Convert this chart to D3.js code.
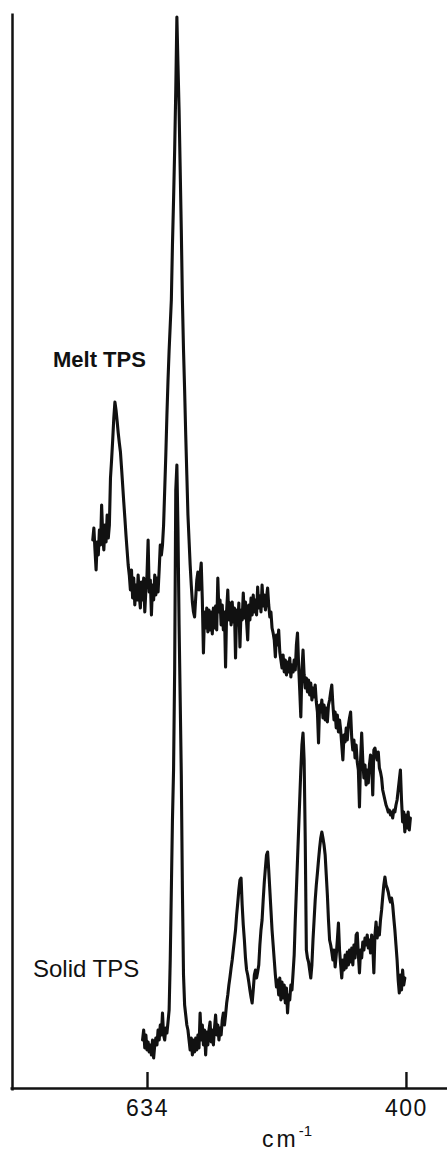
<!DOCTYPE html>
<html><head><meta charset="utf-8">
<script src="https://cdn.jsdelivr.net/npm/d3@7"></script>
<style>html,body{margin:0;padding:0;background:#fff;} svg{display:block}</style>
</head><body>
<svg id="chart" width="447" height="1155"></svg>
<script>
// Raman spectra of TPS (wavenumber in cm-1, intensity in arbitrary units)
const tickValues = [634, 400];
const tickLabels = ["634", "400"];
const seriesLabels = ["Melt TPS", "Solid TPS"];
const axisTitle = "cm";
const axisTitleSup = "-1";

const melt = [
[683,550],[682,562],[681,540],[680,520],[679,548],[678,535],[677,560],[676,545],[675,585],[674,555],
[673,540],[672,565],[671,548],[670,575],[669,552],[668,565],[667,612],[666,630],[665,650],[664,672],
[663,688],[662,680],[661,669],[660,657],[659,647],[658,638],[657,622],[656,605],[655,588],[654,572],
[653,555],[652,540],[651,525],[650,515],[649,500],[648,520],[647,492],[646,512],[645,485],[644,505],
[643,490],[642,515],[641,495],[640,482],[639,508],[638,490],[637,512],[636,478],[635,500],[634,515],
[633,550],[632,498],[631,510],[630,475],[629,505],[628,490],[627,515],[626,495],[625,512],[624,498],
[623,520],[622,545],[621,535],[620,545],[619,565],[618,600],[617,635],[616,675],[615,710],[614,740],
[613,765],[612,790],[611,845],[610,890],[609,940],[608,1000],[607,1073],[606,1025],[605,980],[604,920],
[603,860],[602,790],[601,740],[600,700],[599,655],[598,615],[597,575],[596,550],[595,525],[594,505],
[593,488],[592,478],[591,473],[590,492],[589,510],[588,518],[587,500],[586,515],[585,527],[584,490],
[583,437],[582,478],[581,462],[580,482],[579,458],[578,480],[577,460],[576,478],[575,456],[574,482],
[573,462],[572,484],[571,460],[570,512],[569,478],[568,490],[567,465],[566,485],[565,460],[564,478],
[563,423],[562,480],[561,500],[560,470],[559,487],[558,465],[557,488],[556,468],[555,482],[554,432],
[553,480],[552,465],[551,487],[550,443],[549,480],[548,470],[547,497],[546,472],[545,488],[544,468],
[543,450],[542,485],[541,470],[540,492],[539,475],[538,495],[537,478],[536,490],[535,475],[534,503],
[533,482],[532,494],[531,478],[530,505],[529,484],[528,495],[527,480],[526,492],[525,502],[524,485],
[523,473],[522,478],[521,462],[520,457],[519,450],[518,433],[517,455],[516,445],[515,460],[514,438],
[513,430],[512,422],[511,435],[510,418],[509,430],[508,415],[507,428],[506,418],[505,432],[504,413],
[503,425],[502,418],[501,430],[500,420],[499,445],[498,457],[497,425],[496,400],[495,373],[494,420],
[493,440],[492,415],[491,402],[490,412],[489,398],[488,410],[487,395],[486,407],[485,390],[484,402],
[483,393],[482,405],[481,388],[480,378],[479,347],[478,385],[477,378],[476,390],[475,372],[474,385],
[473,370],[472,382],[471,368],[470,385],[469,390],[468,398],[467,405],[466,385],[465,370],[464,378],
[463,362],[462,375],[461,358],[460,370],[459,360],[458,345],[457,330],[456,355],[455,348],[454,362],
[453,350],[452,365],[451,372],[450,378],[449,352],[448,340],[447,350],[446,332],[445,345],[444,328],
[443,320],[442,283],[441,330],[440,357],[439,330],[438,312],[437,325],[436,305],[435,320],[434,307],
[433,325],[432,335],[431,328],[430,295],[429,340],[428,342],[427,335],[426,330],[425,338],[424,322],
[423,318],[422,312],[421,300],[420,295],[419,290],[418,285],[417,282],[416,278],[415,280],[414,275],
[413,278],[412,272],[411,280],[410,278],[409,285],[408,290],[407,300],[406,310],[405,320],[404,290],
[403,268],[402,278],[401,258],[400,275],[399,262],[398,278],[397,260],[396,272]
];

const solid = [
[638,50],[637,60],[636,42],[635,55],[634,40],[633,48],[632,38],[631,45],[630,35],[629,50],
[628,32],[627,45],[626,52],[625,45],[624,60],[623,50],[622,65],[621,55],[620,77],[619,55],
[618,50],[617,62],[616,57],[615,68],[614,80],[613,130],[612,200],[611,270],[610,320],[609,420],
[608,600],[607,625],[606,560],[605,465],[604,390],[603,315],[602,200],[601,115],[600,85],[599,75],
[598,65],[597,60],[596,50],[595,40],[594,52],[593,35],[592,50],[591,38],[590,52],[589,40],
[588,55],[587,42],[586,77],[585,50],[584,65],[583,45],[582,60],[581,35],[580,58],[579,45],
[578,60],[577,68],[576,48],[575,60],[574,45],[573,62],[572,75],[571,55],[570,65],[569,50],
[568,62],[567,55],[566,70],[565,77],[564,65],[563,75],[562,87],[561,95],[560,105],[559,113],
[558,122],[557,130],[556,140],[555,150],[554,160],[553,175],[552,187],[551,200],[550,210],[549,212],
[548,185],[547,165],[546,150],[545,132],[544,120],[543,115],[542,108],[541,100],[540,93],[539,87],
[538,100],[537,115],[536,120],[535,112],[534,118],[533,125],[532,145],[531,160],[530,170],[529,190],
[528,208],[527,222],[526,235],[525,238],[524,220],[523,200],[522,180],[521,160],[520,145],[519,130],
[518,115],[517,103],[516,110],[515,95],[514,112],[513,90],[512,108],[511,92],[510,105],[509,87],
[508,102],[507,77],[506,95],[505,90],[504,105],[503,100],[502,117],[501,135],[500,170],[499,200],
[498,230],[497,260],[496,290],[495,320],[494,345],[493,357],[492,330],[491,250],[490,140],[489,132],
[488,128],[487,120],[486,112],[485,125],[484,150],[483,170],[482,190],[481,205],[480,217],[479,230],
[478,242],[477,252],[476,258],[475,252],[474,245],[473,235],[472,215],[471,195],[470,170],[469,150],
[468,145],[467,138],[466,130],[465,140],[464,123],[463,135],[462,150],[461,167],[460,140],[459,125],
[458,112],[457,130],[456,120],[455,135],[454,122],[453,138],[452,125],[451,140],[450,128],[449,142],
[448,125],[447,145],[446,132],[445,155],[444,157],[443,135],[442,117],[441,140],[440,132],[439,148],
[438,140],[437,152],[436,145],[435,155],[434,142],[433,150],[432,137],[431,155],[430,145],[429,117],
[428,155],[427,168],[426,152],[425,162],[424,155],[423,170],[422,180],[421,193],[420,205],[419,213],
[418,205],[417,202],[416,198],[415,192],[414,188],[413,192],[412,185],[411,172],[410,160],[409,145],
[408,130],[407,110],[406,97],[405,115],[404,100],[403,120],[402,105],[401,112]
];

const svg = d3.select("#chart");
const x = d3.scaleLinear().domain([757.8, 362.9]).range([10, 447]);
const y = d3.scaleLinear().domain([0, 1077]).range([1090, 13]);

// x axis (ticks pointing up into the plot)
const xAxis = d3.axisBottom(x).tickValues(tickValues)
  .tickFormat((d, i) => tickLabels[i]).tickSize(-16).tickSizeOuter(0).tickPadding(12);
const gx = svg.append("g").attr("transform", "translate(0,1088)").call(xAxis);
gx.select(".domain").attr("stroke", "#111").attr("stroke-width", 2.5);
gx.selectAll(".tick line").attr("stroke", "#111").attr("stroke-width", 2.4);
gx.selectAll(".tick text").attr("fill", "#111")
  .style("font-family", "'Liberation Sans', Arial, sans-serif")
  .style("font-size", "23px").style("letter-spacing", "1.5px");

// y axis (plain line)
const yAxis = d3.axisLeft(y).tickValues([]).tickSizeOuter(0);
const gy = svg.append("g").attr("transform", "translate(12,0)").call(yAxis);
gy.select(".domain").attr("stroke", "#111").attr("stroke-width", 2.5);

// spectra
const line = d3.line().x(d => x(d[0])).y(d => y(d[1]));
[melt, solid].forEach(s => {
  svg.append("path").datum(s).attr("d", line)
    .attr("fill", "none").attr("stroke", "#111")
    .attr("stroke-width", 3.1).attr("stroke-linejoin", "round").attr("stroke-linecap", "round");
});

// labels
svg.append("text").attr("x", 53).attr("y", 367).text(seriesLabels[0])
  .attr("fill", "#111").style("font-family", "'Liberation Sans', Arial, sans-serif")
  .style("font-size", "22px").style("font-weight", "bold");
svg.append("text").attr("x", 33).attr("y", 977).text(seriesLabels[1])
  .attr("fill", "#111").style("font-family", "'Liberation Sans', Arial, sans-serif")
  .style("font-size", "24px");

const t = svg.append("text").attr("x", 262).attr("y", 1147).attr("fill", "#111")
  .style("font-family", "'Liberation Sans', Arial, sans-serif").style("font-size", "23px");
t.append("tspan").text(axisTitle).style("letter-spacing", "3px");
t.append("tspan").text(axisTitleSup).attr("dy", -11).style("font-size", "15px");
</script>
</body></html>
